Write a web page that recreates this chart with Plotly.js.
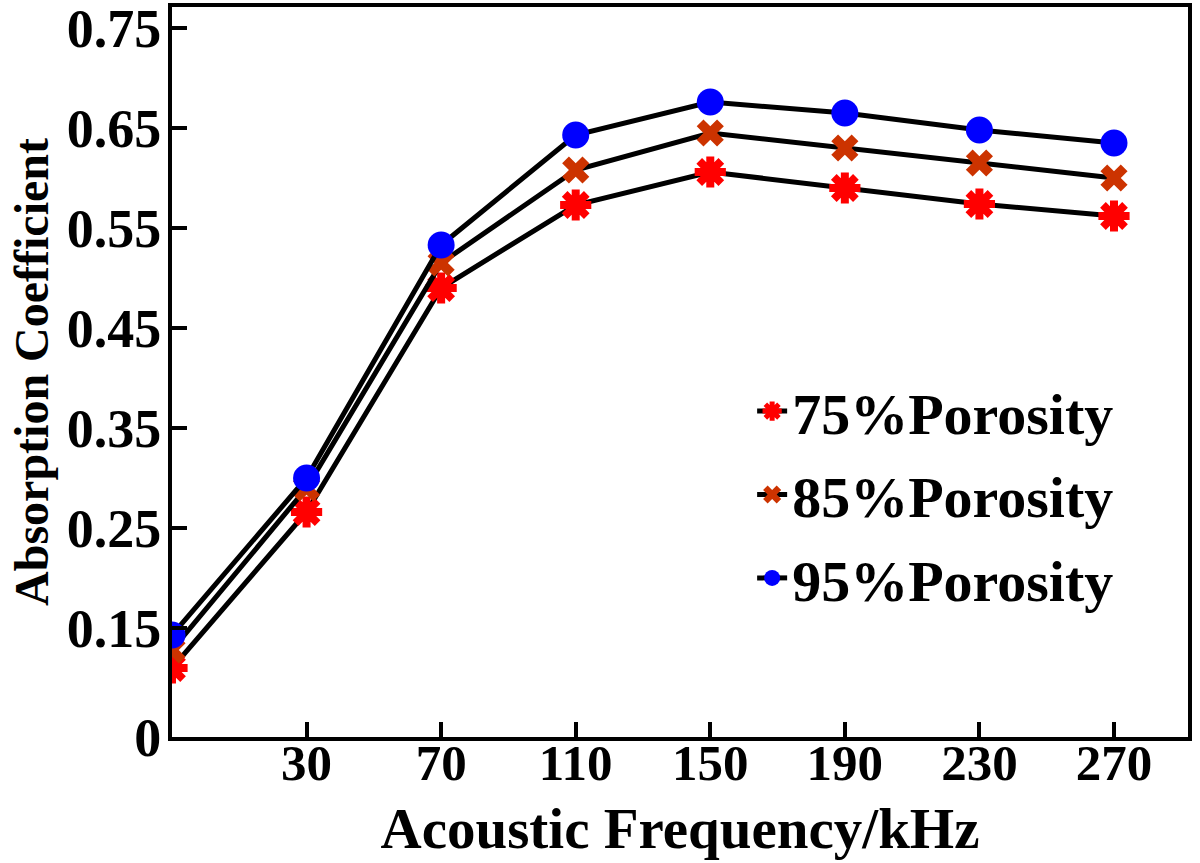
<!DOCTYPE html>
<html>
<head>
<meta charset="utf-8">
<script src="https://cdn.plot.ly/plotly-3.0.1.min.js"></script>
<style>
  html, body { margin: 0; padding: 0; background: #ffffff; }
  #chart { width: 1200px; height: 863px; }
</style>
</head>
<body>
<div id="chart"></div>
<script>
// ── Data ────────────────────────────────────────────────────────
const freq = [-10, 30, 70, 110, 150, 190, 230, 270];
const por75 = [0.110, 0.266, 0.490, 0.573, 0.606, 0.590, 0.574, 0.562];
const por85 = [0.128, 0.290, 0.515, 0.608, 0.645, 0.630, 0.615, 0.600];
const por95 = [0.143, 0.300, 0.533, 0.643, 0.676, 0.665, 0.648, 0.635];

const xTicks = [30, 70, 110, 150, 190, 230, 270];
const yTickVals = [0.041, 0.15, 0.25, 0.35, 0.45, 0.55, 0.65, 0.75];
const yTickText = ['0', '0.15', '0.25', '0.35', '0.45', '0.55', '0.65', '0.75'];

const FONT = "'Liberation Serif', 'Times New Roman', serif";
const LINE = { color: '#000000', width: 5 };

const traces = [
  {
    x: freq, y: por75,
    type: 'scatter', mode: 'lines+markers',
    name: '<b>75%Porosity</b>',
    legendgroup: 'a',
    line: LINE,
    marker: { symbol: 'asterisk-open', size: 26, color: '#ff0000', line: { color: '#ff0000', width: 8 } },
  },
  {
    x: freq, y: por85,
    type: 'scatter', mode: 'lines+markers',
    name: '<b>85%Porosity</b>',
    legendgroup: 'b',
    line: LINE,
    marker: { symbol: 'x', size: 24, color: '#cc3300', line: { width: 0 } },
  },
  {
    x: freq, y: por95,
    type: 'scatter', mode: 'lines+markers',
    name: '<b>95%Porosity</b>',
    legendgroup: 'c',
    line: LINE,
    marker: { symbol: 'circle', size: 27, color: '#0000ff', line: { width: 0 } },
  },
];

const layout = {
  width: 1200, height: 863,
  paper_bgcolor: '#ffffff',
  plot_bgcolor: '#ffffff',
  font: { family: FONT, color: '#000000', size: 50 },
  margin: { l: 172, r: 12, t: 7, b: 126 },
  showlegend: true,
  legend: {
    x: 0.571, y: 0.507, xanchor: 'left', yanchor: 'top',
    bgcolor: 'rgba(0,0,0,0)',
    traceorder: 'grouped',
    tracegroupgap: 5,
    font: { family: FONT, size: 58, color: '#000000' },
    itemwidth: 30,
  },
  xaxis: {
    range: [-10, 292],
    tickvals: xTicks,
    ticktext: xTicks.map(v => '<b>' + v + '</b>'),
    ticks: 'inside', ticklen: 15, tickwidth: 4, tickcolor: '#000000',
    ticklabelstandoff: -22,
    showline: true, linewidth: 4, linecolor: '#000000', mirror: true,
    showgrid: false, zeroline: false,
    tickfont: { family: FONT, size: 51, color: '#000000' },
    title: { text: '<b>Acoustic Frequency/kHz</b>', font: { family: FONT, size: 57, color: '#000000' }, standoff: 19 },
  },
  yaxis: {
    range: [0.041, 0.771],
    tickvals: yTickVals,
    ticktext: yTickText.map(t => '<b>' + t + '</b>'),
    ticks: 'inside', ticklen: 15, tickwidth: 4, tickcolor: '#000000',
    ticklabelstandoff: -4,
    ticklabeloverflow: 'allow',
    showline: true, linewidth: 4, linecolor: '#000000', mirror: true,
    showgrid: false, zeroline: false,
    tickfont: { family: FONT, size: 54, color: '#000000' },
    title: { text: '<b>Absorption Coefficient</b>', font: { family: FONT, size: 48, color: '#000000' }, standoff: 4 },
  },
};

Plotly.newPlot('chart', traces, layout, { displayModeBar: false, staticPlot: true });
</script>
</body>
</html>
